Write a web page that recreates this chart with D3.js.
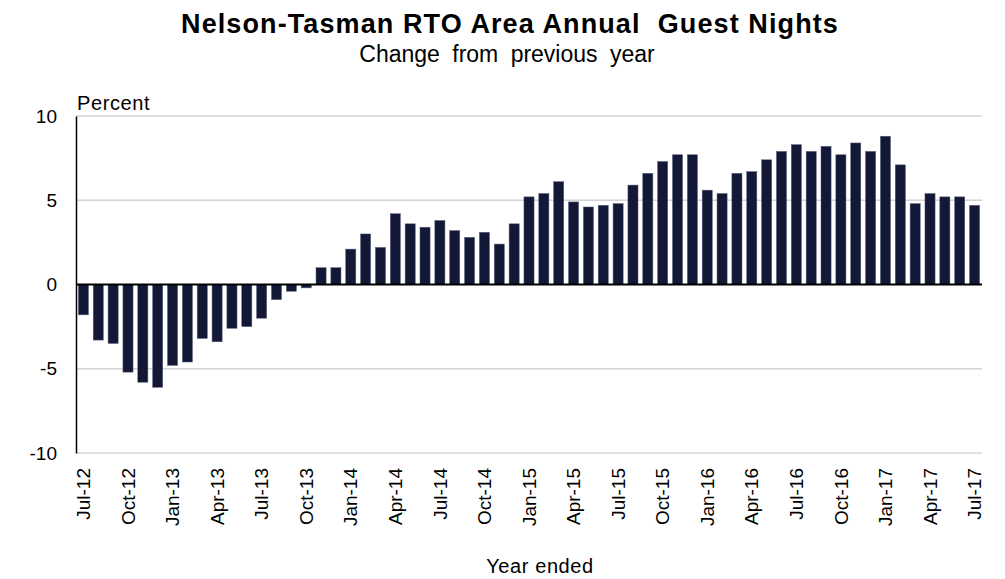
<!DOCTYPE html>
<html>
<head>
<meta charset="utf-8">
<script src="https://cdn.jsdelivr.net/npm/d3@7"></script>
<style>
  body { margin: 0; background: #fff; }
  svg { display: block; font-family: "Liberation Sans", Arial, sans-serif; }
</style>
</head>
<body>
<div id="chart"></div>
<script>
// year ended, monthly
const months = [
  "Jul-12","Aug-12","Sep-12","Oct-12","Nov-12","Dec-12","Jan-13","Feb-13","Mar-13","Apr-13","May-13","Jun-13",
  "Jul-13","Aug-13","Sep-13","Oct-13","Nov-13","Dec-13","Jan-14","Feb-14","Mar-14","Apr-14","May-14","Jun-14",
  "Jul-14","Aug-14","Sep-14","Oct-14","Nov-14","Dec-14","Jan-15","Feb-15","Mar-15","Apr-15","May-15","Jun-15",
  "Jul-15","Aug-15","Sep-15","Oct-15","Nov-15","Dec-15","Jan-16","Feb-16","Mar-16","Apr-16","May-16","Jun-16",
  "Jul-16","Aug-16","Sep-16","Oct-16","Nov-16","Dec-16","Jan-17","Feb-17","Mar-17","Apr-17","May-17","Jun-17",
  "Jul-17"
];

const change = [
  -1.8, -3.3, -3.5, -5.2, -5.8, -6.1, -4.8, -4.6, -3.2, -3.4, -2.6, -2.5,
  -2.0, -0.9, -0.4, -0.2, 1.0, 1.0, 2.1, 3.0, 2.2, 4.2, 3.6, 3.4,
  3.8, 3.2, 2.8, 3.1, 2.4, 3.6, 5.2, 5.4, 6.1, 4.9, 4.6, 4.7,
  4.8, 5.9, 6.6, 7.3, 7.7, 7.7, 5.6, 5.4, 6.6, 6.7, 7.4, 7.9,
  8.3, 7.9, 8.2, 7.7, 8.4, 7.9, 8.8, 7.1, 4.8, 5.4, 5.2, 5.2,
  4.7
];

const yTicks = [-10, -5, 0, 5, 10];
const xTickLabels = months.filter((d, i) => i % 3 === 0);

const width = 1005;
const height = 579;
const margin = { top: 116, right: 23, bottom: 126, left: 76 };

const svg = d3.select("#chart")
  .append("svg")
  .attr("width", width)
  .attr("height", height);

const x = d3.scaleBand()
  .domain(months)
  .range([margin.left, width - margin.right])
  .paddingInner(0.32)
  .paddingOuter(0.16);

const y = d3.scaleLinear()
  .domain([-10, 10])
  .range([height - margin.bottom, margin.top]);

// gridlines
svg.append("g")
  .selectAll("line")
  .data(yTicks.filter((d) => d !== 0))
  .enter()
  .append("line")
  .attr("x1", margin.left)
  .attr("x2", width - margin.right)
  .attr("y1", (d) => y(d))
  .attr("y2", (d) => y(d))
  .attr("stroke", "#d4d4d4")
  .attr("stroke-width", 1.5);

// y axis
const yAxis = svg.append("g")
  .attr("transform", `translate(${margin.left},0)`)
  .call(
    d3.axisLeft(y)
      .tickValues(yTicks)
      .tickFormat((d) => (d < 0 ? "-" + Math.abs(d) : String(d)))
      .tickSize(0)
      .tickPadding(19)
  );

yAxis.select(".domain").attr("stroke", "#000").attr("stroke-width", 1.5);
yAxis.selectAll("text")
  .attr("font-size", 19)
  .attr("fill", "#000")
  .attr("font-family", "Liberation Sans, Arial, sans-serif");

// bars
svg.append("g")
  .selectAll("rect")
  .data(change)
  .enter()
  .append("rect")
  .attr("x", (d, i) => x(months[i]))
  .attr("width", x.bandwidth())
  .attr("y", (d) => y(Math.max(0, d)))
  .attr("height", (d) => Math.abs(y(d) - y(0)))
  .attr("fill", "#141837")
  .attr("stroke", "#5b5f7c")
  .attr("stroke-width", 0.5);

// zero line
svg.append("line")
  .attr("x1", margin.left)
  .attr("x2", width - margin.right)
  .attr("y1", y(0))
  .attr("y2", y(0))
  .attr("stroke", "#000")
  .attr("stroke-width", 2);

// x axis labels
const xAxis = svg.append("g")
  .attr("transform", `translate(0,${y(-10)})`)
  .call(d3.axisBottom(x).tickValues(xTickLabels).tickSize(0).tickPadding(0));

xAxis.select(".domain").remove();
xAxis.selectAll("text")
  .attr("font-size", 19)
  .attr("fill", "#000")
  .attr("font-family", "Liberation Sans, Arial, sans-serif")
  .attr("transform", "rotate(-90)")
  .attr("text-anchor", "end")
  .attr("x", -15)
  .attr("y", 0)
  .attr("dy", "0.35em");

// titles
svg.append("text")
  .attr("x", 510)
  .attr("y", 33)
  .attr("text-anchor", "middle")
  .attr("font-size", 27)
  .attr("font-weight", "bold")
  .style("letter-spacing", "1.1px")
  .style("white-space", "pre")
  .text("Nelson-Tasman RTO Area Annual  Guest Nights");

svg.append("text")
  .attr("x", 507)
  .attr("y", 62)
  .attr("text-anchor", "middle")
  .attr("font-size", 23)
  .style("word-spacing", "6px")
  .text("Change from previous year");

svg.append("text")
  .attr("x", 77)
  .attr("y", 110)
  .attr("font-size", 20)
  .style("letter-spacing", "0.6px")
  .text("Percent");

svg.append("text")
  .attr("x", 540)
  .attr("y", 573)
  .attr("text-anchor", "middle")
  .attr("font-size", 20)
  .style("letter-spacing", "0.6px")
  .text("Year ended");
</script>
</body>
</html>
